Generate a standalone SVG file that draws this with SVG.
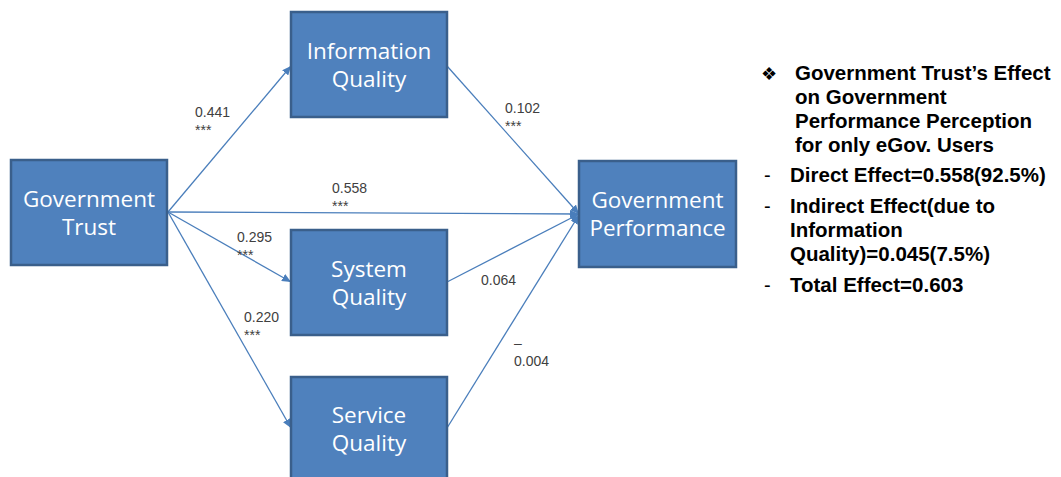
<svg xmlns="http://www.w3.org/2000/svg" width="1061" height="477" viewBox="0 0 1061 477">
<style>
.box{fill:#4F81BD;stroke:#3A5F8B;stroke-width:2.5}
.bt{font-family:"Open Sans","Noto Sans",sans-serif;font-size:22.5px;fill:#FFFFFF;text-anchor:middle}
.lbl{font-family:"Liberation Sans",Arial,sans-serif;font-size:14px;fill:#404040}
.edge{stroke:#4A7EBB;stroke-width:1.3;fill:none;marker-end:url(#ah)}
.rt{font-family:"Liberation Sans",Arial,sans-serif;font-size:20.5px;font-weight:bold;fill:#000000}
.dash{font-family:"Liberation Sans",Arial,sans-serif;font-size:20px;fill:#000000}
.bullet{font-family:"DejaVu Sans",sans-serif;font-size:18px;fill:#000000}
</style>
<defs>
<marker id="ah" markerUnits="userSpaceOnUse" markerWidth="10" markerHeight="8" refX="9" refY="4" orient="auto">
<path d="M0,0 L9,4 L0,8 Z" fill="#4A7EBB"/>
</marker>
</defs>
<rect width="1061" height="477" fill="#FFFFFF"/>
<g id="connectors">
<line class="edge" x1="168" y1="212" x2="291" y2="66"/>
<line class="edge" x1="168" y1="212" x2="579" y2="214"/>
<line class="edge" x1="168" y1="212" x2="291" y2="282"/>
<line class="edge" x1="168" y1="212" x2="291" y2="428"/>
<line class="edge" x1="447" y1="66" x2="579" y2="214"/>
<line class="edge" x1="447" y1="282" x2="579" y2="214"/>
<line class="edge" x1="447" y1="428" x2="579" y2="215"/>
</g>
<g id="labels">
<text class="lbl" x="195" y="117">0.441</text>
<text class="lbl" x="195" y="135">***</text>
<text class="lbl" x="332" y="193">0.558</text>
<text class="lbl" x="332" y="211">***</text>
<text class="lbl" x="237" y="242">0.295</text>
<text class="lbl" x="237" y="260">***</text>
<text class="lbl" x="244" y="322">0.220</text>
<text class="lbl" x="244" y="340">***</text>
<text class="lbl" x="505" y="113">0.102</text>
<text class="lbl" x="505" y="131">***</text>
<text class="lbl" x="481" y="285">0.064</text>
<text class="lbl" x="514" y="348">–</text>
<text class="lbl" x="514" y="366">0.004</text>
</g>
<g id="node-trust">
<rect class="box" x="11" y="160" width="156" height="105"/>
<text class="bt" x="89" y="207">Government</text>
<text class="bt" x="89" y="235">Trust</text>
</g>
<g id="node-info">
<rect class="box" x="291" y="12" width="156" height="105"/>
<text class="bt" x="369" y="59">Information</text>
<text class="bt" x="369" y="87">Quality</text>
</g>
<g id="node-system">
<rect class="box" x="291" y="230" width="156" height="105"/>
<text class="bt" x="369" y="277">System</text>
<text class="bt" x="369" y="305">Quality</text>
</g>
<g id="node-service">
<rect class="box" x="291" y="377" width="156" height="105"/>
<text class="bt" x="369" y="423">Service</text>
<text class="bt" x="369" y="451">Quality</text>
</g>
<g id="node-performance">
<rect class="box" x="579" y="161" width="157" height="106"/>
<text class="bt" x="657.5" y="208">Government</text>
<text class="bt" x="657.5" y="236">Performance</text>
</g>
<g id="summary">
<text class="bullet" x="761" y="80">❖</text>
<text class="rt" x="795" y="80">Government Trust’s Effect</text>
<text class="rt" x="795" y="104">on Government</text>
<text class="rt" x="795" y="128">Performance Perception</text>
<text class="rt" x="795" y="152">for only eGov. Users</text>
<text class="dash" x="764" y="182">-</text>
<text class="rt" x="790" y="182">Direct Effect=0.558(92.5%)</text>
<text class="dash" x="764" y="213">-</text>
<text class="rt" x="790" y="213">Indirect Effect(due to</text>
<text class="rt" x="790" y="237">Information</text>
<text class="rt" x="790" y="261">Quality)=0.045(7.5%)</text>
<text class="dash" x="764" y="292">-</text>
<text class="rt" x="790" y="292">Total Effect=0.603</text>
</g>
</svg>
